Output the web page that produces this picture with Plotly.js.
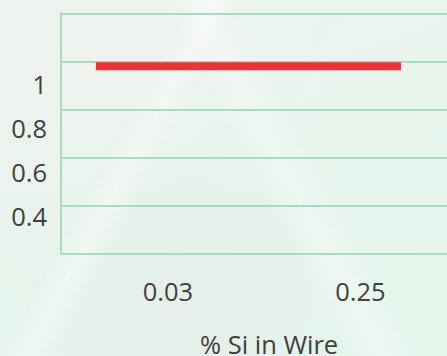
<!DOCTYPE html>
<html>
<head>
<meta charset="utf-8">
<script src="https://cdn.plot.ly/plotly-3.0.1.min.js"></script>
<style>
  html, body { margin: 0; padding: 0; }
  body {
    width: 447px; height: 356px; overflow: hidden;
    background:
      linear-gradient(118deg, rgba(255,255,255,0) 30%, rgba(255,255,255,0.45) 34%, rgba(255,255,255,0) 38%),
      linear-gradient(62deg, rgba(255,255,255,0) 55%, rgba(255,255,255,0.35) 60%, rgba(255,255,255,0) 66%),
      radial-gradient(ellipse at 10% 10%, #eef2ef 0%, rgba(238,242,239,0) 55%),
      radial-gradient(ellipse at 40% 85%, #e6efea 0%, rgba(230,239,234,0) 45%),
      linear-gradient(160deg, #edf3ef 0%, #e6f4ec 45%, #e4f5ec 100%);
  }
  #chart { width: 447px; height: 356px; }
</style>
</head>
<body>
<div id="chart"></div>
<script>
// Silicon content categories and the measured value for each
const siCategories = ['0.03', '0.25'];
const siValues = [0.98, 0.98];

// Value-axis labels
const yTickVals = [0.4, 0.6, 0.8, 1];
const yTickText = ['0.4', '0.6', '0.8', '1'];

const xTitle = '% Si in Wire';

const textColor = '#404040';
const gridColor = '#a9dcbc';
const lineColor = '#ee3338';
const font = 'Open Sans, Noto Sans, sans-serif';
const fontSize = 25.5;

const traces = [
  {
    // red series line
    x: siCategories,
    y: siValues,
    xaxis: 'x2',
    yaxis: 'y',
    type: 'scatter',
    mode: 'lines',
    line: { color: lineColor, width: 8 },
    hoverinfo: 'skip',
    showlegend: false
  },
  {
    // carries the category labels for the bottom axis
    x: siCategories,
    y: siValues,
    xaxis: 'x',
    yaxis: 'y2',
    type: 'scatter',
    mode: 'markers',
    marker: { opacity: 0 },
    hoverinfo: 'skip',
    showlegend: false
  }
];

const layout = {
  width: 447,
  height: 356,
  margin: { l: 62, r: 0, t: 12, b: 101, pad: 0 },
  paper_bgcolor: 'rgba(0,0,0,0)',
  plot_bgcolor: 'rgba(0,0,0,0)',
  font: { family: font, color: textColor, size: fontSize },
  showlegend: false,
  xaxis: {
    type: 'category',
    range: [-0.55, 1.45],
    showgrid: false,
    zeroline: false,
    showline: false,
    ticks: '',
    tickfont: { family: font, size: fontSize, color: textColor },
    ticklabelstandoff: 19,
    automargin: false,
    anchor: 'y2'
  },
  xaxis2: {
    type: 'category',
    overlaying: 'x',
    range: [-0.111, 1.151],
    visible: false,
    anchor: 'y'
  },
  yaxis: {
    range: [0.19375, 1.20625],
    tick0: 0.2,
    dtick: 0.2,
    showgrid: true,
    gridcolor: gridColor,
    gridwidth: 2,
    zeroline: false,
    showline: true,
    linecolor: gridColor,
    linewidth: 2,
    showticklabels: false,
    ticks: '',
    anchor: 'x2'
  },
  yaxis2: {
    overlaying: 'y',
    side: 'left',
    range: [0.2273, 1.3318],
    tickvals: yTickVals,
    ticktext: yTickText,
    showgrid: false,
    zeroline: false,
    showline: false,
    ticks: '',
    tickfont: { family: font, size: fontSize, color: textColor },
    ticklabelstandoff: 14,
    automargin: false,
    anchor: 'x'
  },
  annotations: [
    {
      // horizontal axis title
      text: xTitle,
      xref: 'paper',
      yref: 'paper',
      x: 0.5377,
      y: -0.368,
      xanchor: 'center',
      yanchor: 'middle',
      showarrow: false,
      font: { family: font, size: fontSize, color: textColor }
    }
  ]
};

Plotly.newPlot('chart', traces, layout, { staticPlot: true, displayModeBar: false });
</script>
</body>
</html>
